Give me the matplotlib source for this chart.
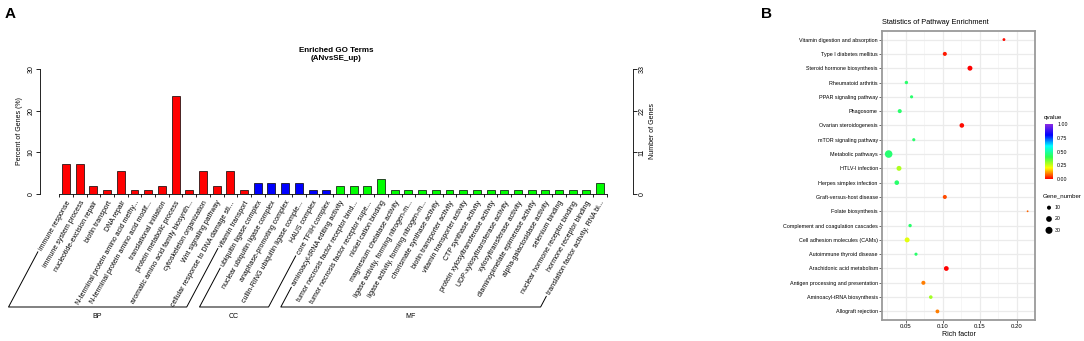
import numpy as np
import matplotlib
matplotlib.use("Agg")
import matplotlib.pyplot as plt
from matplotlib.colors import LinearSegmentedColormap
from matplotlib.lines import Line2D

plt.rcParams['font.family'] = ['Liberation Sans', 'DejaVu Sans']

# --- Panel A: GO terms (gene counts per term) ---
bp_terms = ["immune response", "immune system process", "nucleotide-excision repair",
            "biotin transport", "DNA repair", "N-terminal protein amino acid methy...",
            "N-terminal protein amino acid modif...", "translational initiation",
            "protein metabolic process", "aromatic amino acid family biosynth...",
            "cytoskeleton organization", "Wnt signaling pathway",
            "cellular response to DNA damage sti...", "vitamin transport"]
cc_terms = ["ubiquitin ligase complex", "nuclear ubiquitin ligase complex",
            "anaphase-promoting complex", "cullin-RING ubiquitin ligase comple...",
            "HAUS complex", "core TFIIH complex"]
mf_terms = ["aminoacyl-tRNA editing activity", "tumor necrosis factor receptor bind...",
            "tumor necrosis factor receptor supe...", "nickel cation binding",
            "magnesium chelatase activity", "ligase activity, forming nitrogen-m...",
            "ligase activity, forming nitrogen-m...", "chorismate synthase activity",
            "biotin transporter activity", "vitamin transporter activity",
            "CTP synthase activity", "protein xylosyltransferase activity",
            "UDP-xylosyltransferase activity", "xylosyltransferase activity",
            "diaminopimelate epimerase activity", "alpha-galactosidase activity",
            "selenium binding", "nuclear hormone receptor binding",
            "hormone receptor binding", "translation factor activity, RNA bi..."]
bp_genes = [8, 8, 2, 1, 6, 1, 1, 2, 26, 1, 6, 2, 6, 1]
cc_genes = [3, 3, 3, 3, 1, 1]
mf_genes = [2, 2, 2, 4, 1, 1, 1, 1, 1, 1, 1, 1, 1, 1, 1, 1, 1, 1, 1, 3]
total_genes = 110
pct_ticks = [0, 10, 20, 30]
num_ticks = [0, 11, 22, 33]

# --- Panel B: KEGG pathways (top to bottom) ---
pathways = ["Vitamin digestion and absorption", "Type I diabetes mellitus",
            "Steroid hormone biosynthesis", "Rheumatoid arthritis",
            "PPAR signaling pathway", "Phagosome", "Ovarian steroidogenesis",
            "mTOR signaling pathway", "Metabolic pathways", "HTLV-I infection",
            "Herpes simplex infection", "Graft-versus-host disease",
            "Folate biosynthesis", "Complement and coagulation cascades",
            "Cell adhesion molecules (CAMs)", "Autoimmune thyroid disease",
            "Arachidonic acid metabolism", "Antigen processing and presentation",
            "Aminoacyl-tRNA biosynthesis", "Allograft rejection"]
rich_factor = [0.183, 0.103, 0.137, 0.051, 0.058, 0.042, 0.126, 0.061, 0.027, 0.041,
               0.038, 0.103, 0.215, 0.056, 0.052, 0.064, 0.105, 0.074, 0.084, 0.093]
qvalue = [0.01, 0.02, 0.0, 0.43, 0.43, 0.43, 0.01, 0.43, 0.44, 0.28,
          0.43, 0.06, 0.08, 0.43, 0.23, 0.43, 0.0, 0.1, 0.29, 0.1]
gene_number = [5, 10, 15, 7, 6, 10, 13, 6, 35, 15,
               13, 10, 2, 7, 15, 6, 14, 10, 8, 9]
legend_sizes = [10, 20, 30]

W, H = 1084, 341
fig = plt.figure(figsize=(W / 100, H / 100), dpi=100)


def px_axes(l, t, r, b):
    return fig.add_axes([l / W, 1 - b / H, (r - l) / W, (b - t) / H])


# ---------------- Panel A ----------------
terms = bp_terms + cc_terms + mf_terms
genes = np.array(bp_genes + cc_genes + mf_genes)
colors = ['#FF0000'] * len(bp_terms) + ['#0000FF'] * len(cc_terms) + ['#00FF00'] * len(mf_terms)
x = np.arange(len(terms))

ax = px_axes(40, 69, 633, 194)
ax.bar(x, genes / total_genes * 100, width=0.58, color=colors, edgecolor='black', linewidth=0.5)
ax.set_xlim(-1.9, 41.4)
ax.set_ylim(0, 30)
ax.spines['top'].set_visible(False)
ax.spines['right'].set_visible(False)
ax.spines['left'].set_linewidth(0.6)
ax.spines['bottom'].set_linewidth(0.6)
ax.spines['bottom'].set_bounds(-0.5, len(terms) - 0.5)
ax.set_yticks(pct_ticks)
ax.set_yticklabels([str(t) for t in pct_ticks], rotation=90, va='center')
ax.tick_params(axis='y', labelsize=5, length=3, width=0.6, pad=1)
ax.set_xticks(x)
ax.set_xticklabels(terms, rotation=60, ha='right', va='top', rotation_mode='anchor', fontsize=5)
ax.set_xticks(np.arange(len(terms) + 1) - 0.5, minor=True)
ax.tick_params(axis='x', which='major', length=0, pad=4)
ax.tick_params(axis='x', which='minor', length=2.5, width=0.6)

ax2 = ax.twinx()
ax2.set_ylim(0, 33)
for s in ['top', 'bottom', 'left']:
    ax2.spines[s].set_visible(False)
ax2.spines['right'].set_linewidth(0.6)
ax2.set_yticks(num_ticks)
ax2.set_yticklabels([str(t) for t in num_ticks], rotation=90, va='center')
ax2.tick_params(axis='y', labelsize=5, length=3, width=0.6, pad=1)

fig.text(336 / W, 1 - 54 / H, "Enriched GO Terms\n(ANvsSE_up)", ha='center', va='center',
         fontsize=5.8, fontweight='bold', linespacing=1.2)
fig.text(20 / W, 1 - 131 / H, "Percent of Genes (%)", rotation=90, ha='center', va='center', fontsize=5)
fig.text(653 / W, 1 - 131 / H, "Number of Genes", rotation=90, ha='center', va='center', fontsize=5)
fig.text(10 / W, 1 - 14 / H, "A", fontsize=11, fontweight='bold', ha='center', va='center')

# ---------------- Panel B ----------------
cmap = LinearSegmentedColormap.from_list(
    'qv', ['#FF0000', '#FFFF00', '#30FF50', '#00FFFF', '#0000FF', '#8A2BE2'])
ypos = np.arange(len(pathways))[::-1]

bx = px_axes(882, 31, 1035, 320)
sc = bx.scatter(rich_factor, ypos, s=np.array(gene_number) * 0.85, c=qvalue, cmap=cmap,
                vmin=0, vmax=1, edgecolors='none', zorder=3)
bx.set_ylim(-0.6, len(pathways) - 0.4)
bx.set_xlim(0.018, 0.2247)
bx.set_yticks(ypos)
bx.set_yticklabels(pathways)
bx.set_xticks([0.05, 0.10, 0.15, 0.20])
bx.set_xticklabels(['0.05', '0.10', '0.15', '0.20'])
bx.set_xticks([0.025, 0.075, 0.125, 0.175, 0.225], minor=True)
bx.grid(which='major', color='#EBEBEB', linewidth=0.9)
bx.grid(which='minor', axis='x', color='#F3F3F3', linewidth=0.5)
bx.set_axisbelow(True)
for s in bx.spines.values():
    s.set_color('#9A9A9A')
    s.set_linewidth(1.3)
bx.tick_params(which='major', labelsize=3.9, length=2, width=0.5, color='#333333', pad=1)
bx.tick_params(which='minor', length=0)
bx.tick_params(axis='x', labelsize=4.3)
bx.set_xlabel("Rich factor", fontsize=5, labelpad=1)
bx.set_title("Statistics of Pathway Enrichment", loc='left', fontsize=5.3, pad=5)
fig.text(767 / W, 1 - 14 / H, "B", fontsize=11, fontweight='bold', ha='center', va='center')

cax = px_axes(1045, 124, 1053, 179)
cb = fig.colorbar(sc, cax=cax, ticks=[0, 0.25, 0.5, 0.75, 1])
cb.ax.set_yticklabels(['0.00', '0.25', '0.50', '0.75', '1.00'])
cb.ax.tick_params(labelsize=3.8, length=2, width=0.5, color='white', pad=1)
cb.outline.set_visible(False)
fig.text(1044 / W, 1 - 118 / H, "qvalue", fontsize=4.5, ha='left', va='center')

lax = px_axes(1044, 202, 1084, 236)
lax.axis('off')
lax.set_xlim(0, 1)
lax.set_ylim(-0.5, 2.5)
lpos = np.arange(len(legend_sizes))[::-1]
lax.scatter([0.125] * len(legend_sizes), lpos, s=np.array(legend_sizes) * 0.85, c='black',
            edgecolors='none', clip_on=False)
for yy, v in zip(lpos, legend_sizes):
    lax.text(0.27, yy, str(v), fontsize=3.8, va='center')
fig.text(1043 / W, 1 - 196 / H, "Gene_number", fontsize=4.4, ha='left', va='center')

# --- GO category brackets under the rotated labels ---
fig.canvas.draw()
renderer = fig.canvas.get_renderer()
labels = ax.get_xticklabels()
slope = 1 / np.tan(np.radians(62))
base_y = H - 307
groups = [('BP', 0, len(bp_terms) - 1),
          ('CC', len(bp_terms), len(bp_terms) + len(cc_terms) - 1),
          ('MF', len(bp_terms) + len(cc_terms), len(terms) - 1)]
for name, i0, i1 in groups:
    ends = []
    for i in (i0, i1):
        bb = labels[i].get_window_extent(renderer)
        ends.append((bb.x0, bb.y0, bb.x0 - (bb.y0 - base_y) * slope))
    xs = np.array([ends[0][0], ends[0][2], ends[1][2], ends[1][0]])
    ys = np.array([ends[0][1], base_y, base_y, ends[1][1]])
    fig.add_artist(Line2D(xs / W, ys / H, color='black', linewidth=0.7))
    fig.text((ends[0][2] + ends[1][2]) / 2 / W, (base_y - 10) / H, name,
             ha='center', va='center', fontsize=5)

fig.savefig("out.png", dpi=100)
